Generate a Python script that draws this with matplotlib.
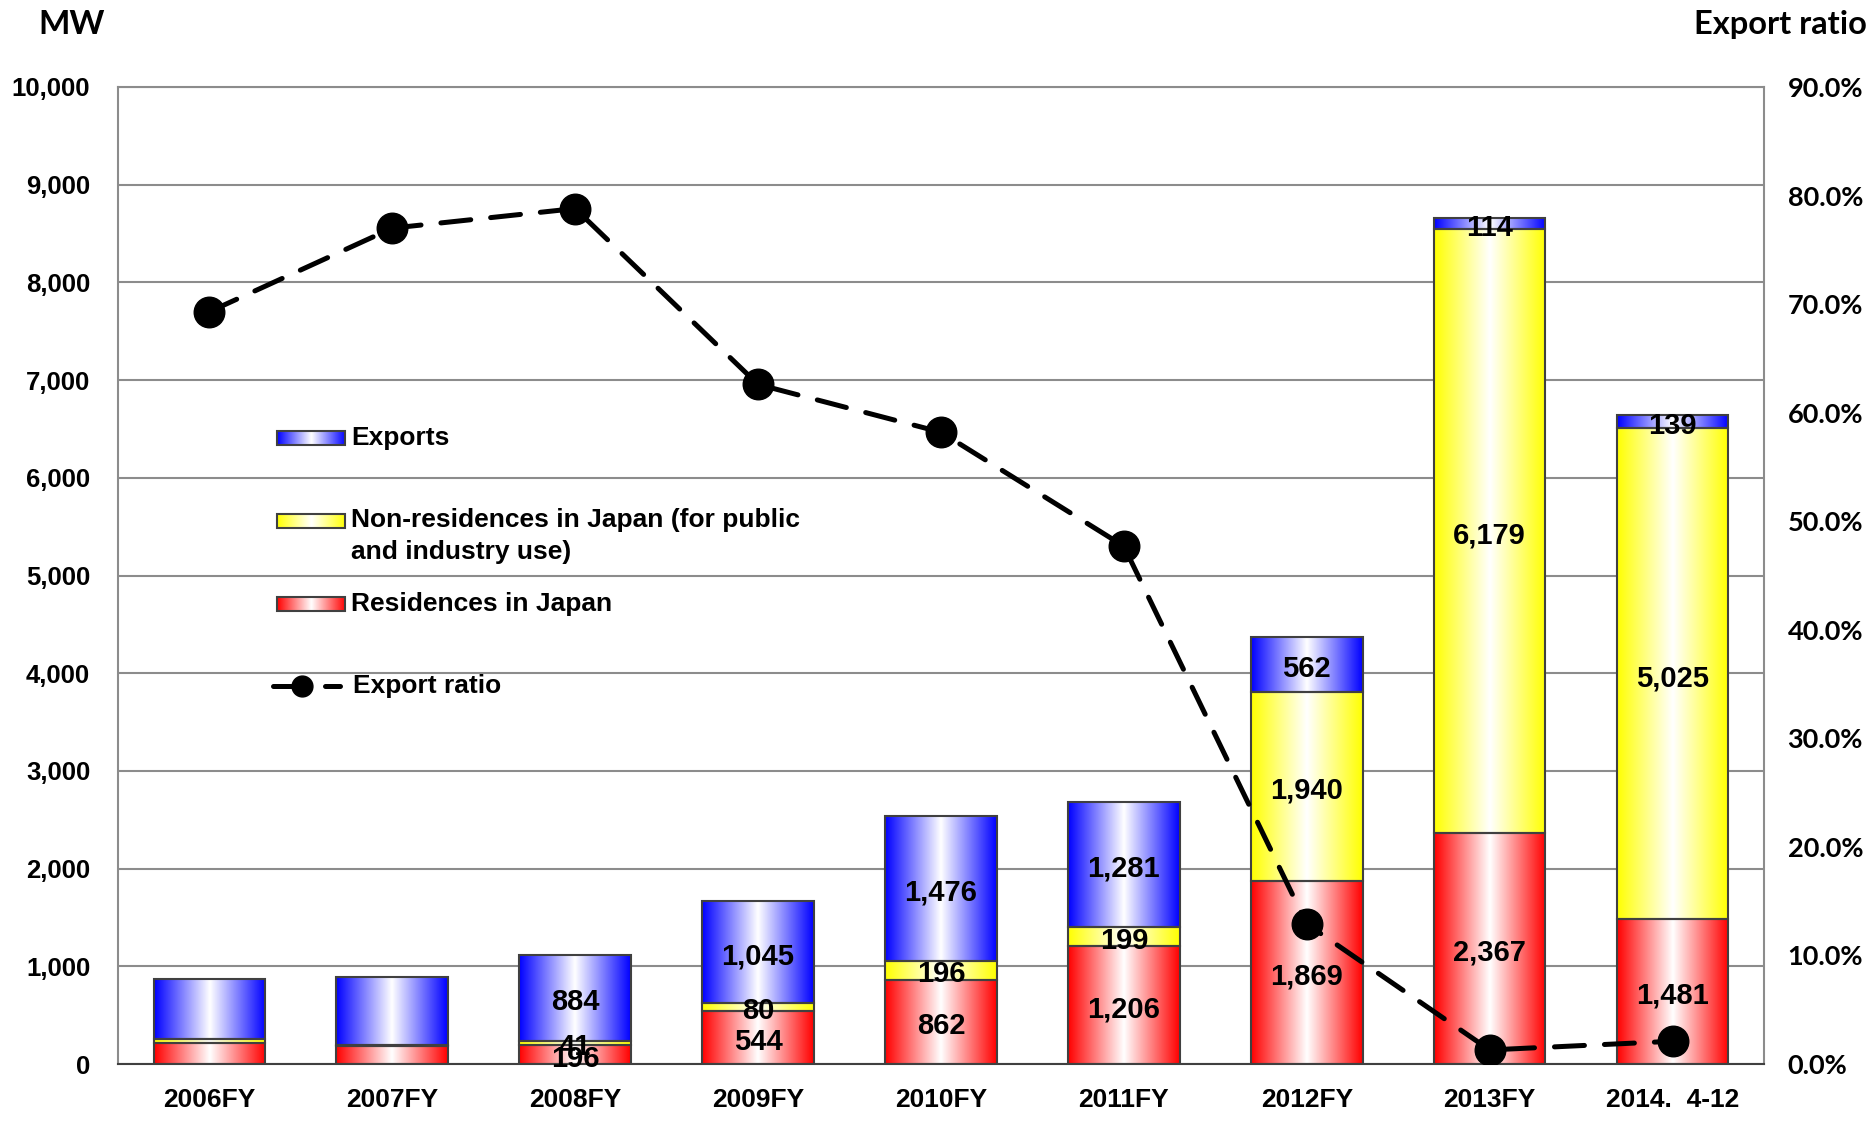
import numpy as np
import matplotlib.pyplot as plt
from matplotlib.colors import LinearSegmentedColormap
from matplotlib.patches import Rectangle
from matplotlib.lines import Line2D
from matplotlib.ticker import FuncFormatter, MultipleLocator

plt.rcParams['font.family'] = ['Liberation Sans', 'DejaVu Sans']
plt.rcParams['font.weight'] = 'bold'

years = ["2006FY", "2007FY", "2008FY", "2009FY", "2010FY",
         "2011FY", "2012FY", "2013FY", "2014.  4-12"]
residences = [215, 185, 196, 544, 862, 1206, 1869, 2367, 1481]
non_residences = [40, 12, 41, 80, 196, 199, 1940, 6179, 5025]
exports = [620, 695, 884, 1045, 1476, 1281, 562, 114, 139]
export_ratio = [69.3, 77.0, 78.8, 62.6, 58.2, 47.7, 12.9, 1.3, 2.1]
show_labels = [False, False, True, True, True, True, True, True, True]

series = [
    ("Residences in Japan", residences, "#ff0000"),
    ("Non-residences in Japan (for public\nand industry use)", non_residences, "#ffff00"),
    ("Exports", exports, "#0000ff"),
]

grad = np.linspace(0, 1, 256).reshape(1, -1)


def gradient_cmap(color):
    return LinearSegmentedColormap.from_list("g", [color, "white", color])


def gradient_box(ax, x0, x1, y0, y1, color, **kw):
    ax.imshow(grad, cmap=gradient_cmap(color), extent=[x0, x1, y0, y1],
              aspect="auto", interpolation="bilinear", zorder=2, **kw)
    ax.add_patch(Rectangle((x0, y0), x1 - x0, y1 - y0, fill=False,
                           edgecolor="#404040", linewidth=1.5, zorder=3, **kw))


fig = plt.figure(figsize=(18.72, 11.21), dpi=100)
ax = fig.add_axes([0.063, 0.0508, 0.8793, 0.8716])

x = np.arange(len(years))
width = 0.61
bottom = np.zeros(len(years))
for name, vals, color in series:
    vals = np.array(vals, dtype=float)
    for i in range(len(years)):
        gradient_box(ax, x[i] - width / 2, x[i] + width / 2,
                     bottom[i], bottom[i] + vals[i], color)
        if show_labels[i]:
            ax.annotate(f"{int(vals[i]):,}", (x[i], bottom[i] + vals[i] / 2),
                        xytext=(0, -3), textcoords="offset points",
                        ha="center", va="center", fontsize=21,
                        fontweight="bold", zorder=5)
    bottom += vals

ax.set_xlim(-0.5, len(years) - 0.5)
ax.set_ylim(0, 10000)
ax.yaxis.set_major_locator(MultipleLocator(1000))
ax.yaxis.set_major_formatter(FuncFormatter(lambda v, p: f"{int(v):,}"))
ax.set_xticks(x)
ax.set_xticklabels(years, fontsize=19, fontweight="bold")
ax.tick_params(axis="x", length=0, pad=17)
ax.tick_params(axis="y", length=0, pad=20, labelsize=18.5)
ax.grid(axis="y", color="#8c8c8c", linewidth=1.5, zorder=0)
ax.set_axisbelow(True)
for s in ax.spines.values():
    s.set_color("#8c8c8c")
    s.set_linewidth(1.5)
ax.spines["bottom"].set_color("#404040")

ax2 = ax.twinx()
ax2.plot(x, export_ratio, color="black", linewidth=3.6, linestyle=(0, (6, 4)),
         dash_capstyle="round", marker="o", markersize=22, zorder=6)
ax2.set_ylim(0, 90)
ax2.yaxis.set_major_locator(MultipleLocator(10))
ax2.yaxis.set_major_formatter(FuncFormatter(lambda v, p: f"{v:.1f}%"))
ax2.tick_params(axis="y", length=0, pad=17)
for lab in ax2.get_yticklabels():
    lab.set_fontfamily("Lato")
    lab.set_fontsize(19.5)
    lab.set_fontweight("bold")
for s in ax2.spines.values():
    s.set_visible(False)

fig.text(0.038, 0.978, "MW", ha="center", va="center", fontsize=24,
         fontweight="bold", family="Lato")
fig.text(0.997, 0.978, "Export ratio", ha="right", va="center", fontsize=23.5,
         fontweight="bold", family="Lato")

# legend, drawn by hand to keep the uneven spacing
leg_items = [(0.641, series[2]), (0.556, series[1]), (0.471, series[0])]
for yc, (name, vals, color) in leg_items:
    gradient_box(ax, 0.0966, 0.138, yc - 0.0072, yc + 0.0072, color,
                 transform=ax.transAxes)
    ax.text(0.1415, yc, name, transform=ax.transAxes, ha="left",
            va="top" if "\n" in name else "center",
            fontsize=19, fontweight="bold", linespacing=1.4,
            zorder=5)
ax.texts[-2].set_y(0.556 + 0.013)

ax.add_line(Line2D([0.094, 0.111], [0.387, 0.387], transform=ax.transAxes,
                   color="black", linewidth=3.6, solid_capstyle="round"))
ax.add_line(Line2D([0.126, 0.135], [0.387, 0.387], transform=ax.transAxes,
                   color="black", linewidth=3.6, solid_capstyle="round"))
ax.add_line(Line2D([0.112], [0.387], transform=ax.transAxes, color="black",
                   marker="o", markersize=15))
ax.text(0.143, 0.387, "Export ratio", transform=ax.transAxes, ha="left",
        va="center", fontsize=19, fontweight="bold")

ax.set_xlim(-0.5, len(years) - 0.5)
ax.set_ylim(0, 10000)

fig.savefig("out.png", dpi=100)
